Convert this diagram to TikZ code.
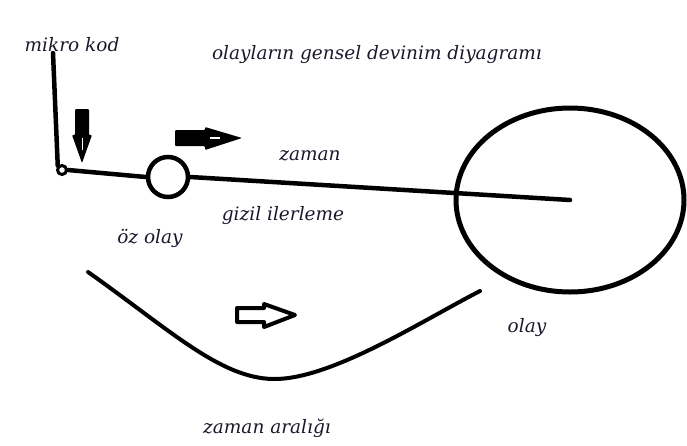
\documentclass[tikz,border=0pt]{standalone}
\usepackage{fontspec}
\setmainfont{DejaVu Serif}
\usepackage{tikz}
\usetikzlibrary{arrows, positioning, shapes}

\definecolor{inkblue}{RGB}{25,25,45}

\begin{document}
\begin{tikzpicture}[x=1pt, y=-1pt,
	label/.style={font=\itshape\fontsize{18.5}{20}\selectfont, text=inkblue, inner sep=0pt},
	pen/.style={line width=4.5pt, line cap=round}]
	\useasboundingbox (0,0) rectangle (687,445);

	% labels
	\node[label] (mikro) at (72,45) {mikro kod};
	\node[label] (title) at (377,55) {olayların gensel devinim diyagramı};
	\node[label] (zaman) at (310,156) {zaman};
	\node[label] (gizil) at (283,216) {gizil ilerleme};
	\node[label] (ozl) at (150,238) {öz olay};
	\node[label] (olayl) at (527,328) {olay};
	\node[label] (aralik) at (267,428) {zaman aralığı};

	% circles
	\coordinate (mtop) at (53,53);
	\node[circle, draw, line width=3pt, minimum size=9pt, inner sep=0pt] (mk) at (62,170) {};
	\node[circle, draw, line width=4.5pt, minimum size=40pt, inner sep=0pt] (oz) at (168,177) {};
	\node[ellipse, draw, line width=5pt, minimum width=228pt, minimum height=184pt, inner sep=0pt] (olay) at (570,200) {};

	% lines
	\draw[pen] (mtop) -- (mk.north west);
	\draw[pen] (mk.east) -- (oz.west);
	\draw[pen] (oz.east) -- (olay.center);

	% down arrow
	\coordinate (down) at (82,109);
	\fill[rounded corners=1pt] (down) ++(-7,0) -- ++(14,0) -- ++(0,26) -- ++(3,0) -- (82,163) -- (72,135) -- (75,135) -- cycle;
	\draw[white, line width=1pt] (82,138) -- (82,150);
	% right arrow
	\coordinate (right) at (175,138);
	\fill[rounded corners=1pt] (right) ++(0,-8) -- (205,130) -- (205,127) -- (242,138) -- (205,150) -- (205,146) -- (175,146) -- cycle;
	\draw[white, line width=1.5pt] (210,138) -- (220,138);
	% hollow arrow
	\coordinate (hollow) at (237,315);
	\draw[line width=4pt, line join=round, fill=white] (hollow) ++(0,-7) -- (264,308) -- (264,304) -- (295,315) -- (264,327) -- (264,322) -- (237,322) -- cycle;

	% time span curve
	\coordinate (cstart) at (88,272);
	\coordinate (cend) at (480,291);
	\draw[line width=4pt, line cap=round] (cstart) .. controls (170,330) and (220,378) .. (273,379)
		.. controls (330,380) and (420,322) .. (cend);
\end{tikzpicture}
\end{document}
